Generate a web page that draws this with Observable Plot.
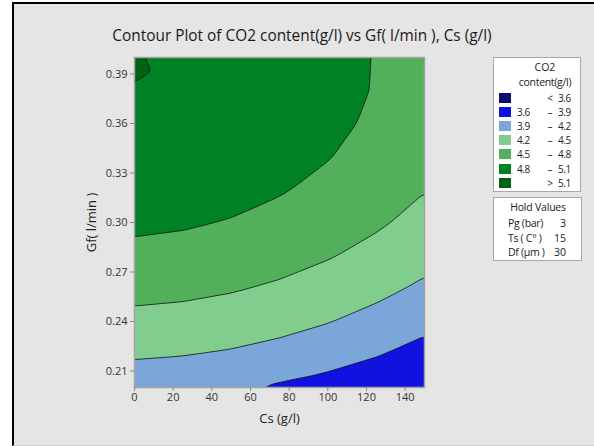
<!DOCTYPE html>
<html>
<head>
<meta charset="utf-8">
<script src="https://cdn.jsdelivr.net/npm/d3@7"></script>
<script src="https://cdn.jsdelivr.net/npm/@observablehq/plot@0.6"></script>
<style>
  html, body { margin: 0; padding: 0; background: #fff; }
  body { width: 594px; height: 446px; position: relative; overflow: hidden;
         font-family: "Open Sans", "Noto Sans", sans-serif; color: #222; }
  #panel { position: absolute; left: 12px; top: 2px; width: 600px; height: 441px;
           background: #e5e5e5; border-left: 2px solid #000; border-top: 2px solid #000;
           border-bottom: 1px solid #cfcfcf; }
  #chart { position: absolute; left: 0; top: 0; }
  #title { position: absolute; left: 0; width: 604px; top: 25px; text-align: center;
           font-size: 15.4px; color: #1a1a1a; white-space: nowrap; }
  .box { position: absolute; background: #fff; border: 1px solid #a8a8a8; box-sizing: border-box; }
  .box div { position: absolute; white-space: nowrap; font-size: 10px; line-height: 12px; color: #222; }
  .swatch { width: 12px; height: 10px; }
</style>
</head>
<body>
<div id="panel"></div>
<div id="chart"></div>
<div id="title">Contour Plot of CO2 content(g/l) vs Gf( l/min ), Cs (g/l)</div>
<div id="legend" class="box" style="left:493px; top:57px; width:88px; height:135px;"></div>
<div id="hold" class="box" style="left:493px; top:197px; width:89px; height:64px;"></div>
<script>
// Grid of CO2 content (g/l) estimates: one row per Gf level, one column per Cs level
const csLevels = [0, 25, 50, 75, 100, 125, 150];
const gfLevels = [0.20, 0.22, 0.24, 0.26, 0.28, 0.30, 0.32, 0.34, 0.36, 0.38, 0.40];
const co2Content = [
  [4.020, 3.995, 3.945, 3.862, 3.790, 3.695, 3.582],
  [4.233, 4.210, 4.168, 4.105, 4.021, 3.918, 3.794],
  [4.422, 4.400, 4.357, 4.294, 4.211, 4.107, 3.984],
  [4.588, 4.566, 4.523, 4.460, 4.377, 4.274, 4.150],
  [4.732, 4.709, 4.666, 4.604, 4.520, 4.417, 4.293],
  [4.852, 4.829, 4.786, 4.724, 4.640, 4.537, 4.413],
  [4.948, 4.926, 4.883, 4.820, 4.737, 4.634, 4.510],
  [5.022, 5.000, 4.957, 4.894, 4.811, 4.707, 4.584],
  [5.073, 5.050, 5.007, 4.945, 4.861, 4.758, 4.634],
  [5.092, 5.060, 5.035, 4.972, 4.889, 4.785, 4.661],
  [5.125, 5.000, 5.039, 4.976, 4.893, 4.789, 4.666]
];

// Contour levels and band colours (lowest band first)
const contourLevels = [3.6, 3.9, 4.2, 4.5, 4.8, 5.1];
const bandColors = ["#0c0c72", "#1212e0", "#7aa6da", "#80cd8e", "#52b05b", "#008224", "#006214"];
const bandLow  = ["",    "3.6", "3.9", "4.2", "4.5", "4.8", ""];
const bandSep  = ["<",   "–",   "–",   "–",   "–",   "–",   ">"];
const bandHigh = ["3.6", "3.9", "4.2", "4.5", "4.8", "5.1", "5.1"];

// Axis ticks
const xTicks = [0, 20, 40, 60, 80, 100, 120, 140];
const yTicks = [0.21, 0.24, 0.27, 0.30, 0.33, 0.36, 0.39];

// Factors held fixed
const holdNames  = ["Pg (bar)", "Ts ( C° )", "Df (µm )"];
const holdValues = ["3", "15", "30"];

const points = [];
gfLevels.forEach((gf, i) => csLevels.forEach((cs, j) => points.push({cs, gf, co2: co2Content[i][j]})));

const chart = Plot.plot({
  width: 594,
  height: 446,
  marginLeft: 134,
  marginRight: 170,
  marginTop: 57,
  marginBottom: 59,
  style: {background: "transparent", fontFamily: "'Open Sans', 'Noto Sans', sans-serif", fontSize: "11px", color: "#333"},
  x: {domain: [0, 150]},
  y: {domain: [0.20, 0.40]},
  color: {type: "threshold", domain: contourLevels, range: bandColors},
  marks: [
    Plot.contour(points, {
      x: "cs", y: "gf", fill: "co2",
      thresholds: [3.3, ...contourLevels],
      interpolate: "barycentric",
      pixelSize: 1, blur: 3,
      stroke: "#111", strokeWidth: 0.8
    }),
    Plot.frame({stroke: "#a4a4a4", strokeWidth: 1.5}),
    Plot.axisX({ticks: xTicks, tickSize: 4, tickPadding: 2, stroke: "#888",
      label: "Cs (g/l)", labelAnchor: "center", labelArrow: "none", labelOffset: 35,
      fontSize: 11}),
    Plot.axisY({ticks: yTicks, tickFormat: d3.format(".2f"), tickSize: 4, tickPadding: 3, stroke: "#888",
      label: "Gf( l/min )", labelAnchor: "center", labelArrow: "none", labelOffset: 48,
      fontSize: 11})
  ]
});
document.getElementById("chart").append(chart);

// Axis titles a bit larger than tick labels
chart.querySelectorAll("g[aria-label='x-axis label'] text, g[aria-label='y-axis label'] text")
  .forEach(t => { t.setAttribute("font-size", "13px"); t.setAttribute("fill", "#222"); });

// Colour key
const legend = document.getElementById("legend");
const put = (parent, html, style) => {
  const d = document.createElement("div");
  d.innerHTML = html;
  Object.assign(d.style, style);
  parent.append(d);
  return d;
};
put(legend, "CO2", {left: "0px", width: "102px", textAlign: "center", top: "3px", fontSize: "10.5px"});
put(legend, "content(g/l)", {left: "0px", width: "102px", textAlign: "center", top: "18px", fontSize: "10.5px", letterSpacing: "-0.3px"});
bandColors.forEach((c, i) => {
  const y = 35 + i * 14.1;
  const sw = put(legend, "", {left: "5px", top: `${y}px`, background: c});
  sw.className = "swatch";
  put(legend, bandLow[i], {left: "23px", top: `${y - 1}px`, letterSpacing: "-0.4px"});
  put(legend, bandSep[i], {left: "51px", width: "10px", textAlign: "center", top: `${y - 1}px`});
  put(legend, bandHigh[i], {left: "64px", top: `${y - 1}px`, letterSpacing: "-0.4px"});
});

// Hold values box
const hold = document.getElementById("hold");
put(hold, "Hold Values", {left: "0px", width: "88px", textAlign: "center", top: "3px", fontSize: "10.5px", letterSpacing: "-0.2px"});
holdNames.forEach((n, i) => {
  const y = 19 + i * 14.7;
  put(hold, n, {left: "14px", top: `${y}px`, fontSize: "10.5px", letterSpacing: "-0.3px"});
  put(hold, holdValues[i], {left: "50px", width: "22px", textAlign: "right", top: `${y}px`, fontSize: "10.5px"});
});
</script>
</body>
</html>
